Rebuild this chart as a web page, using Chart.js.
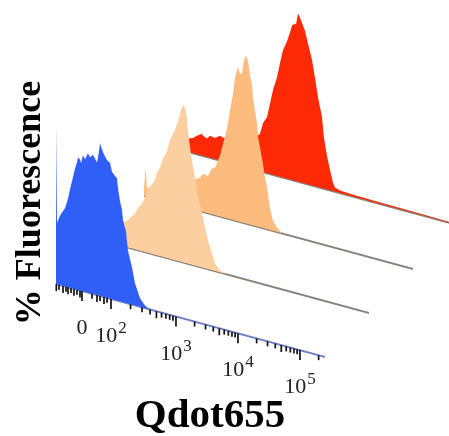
<!DOCTYPE html>
<html>
<head>
<meta charset="utf-8">
<script src="https://cdn.jsdelivr.net/npm/chart.js@4.4.1/dist/chart.umd.min.js"></script>
<style>
  html, body { margin: 0; padding: 0; background: #fff; }
  canvas { display: block; }
</style>
</head>
<body>
<canvas id="histChart" width="449" height="436"></canvas>
<script>
// axis position in decades (10^2 -> ~2), height in % of max count
const blueX = [1.065, 1.081, 1.130, 1.162, 1.210, 1.259, 1.291, 1.323, 1.371, 1.404, 1.420, 1.452, 1.468, 1.500, 1.533, 1.581, 1.613, 1.662, 1.694, 1.726, 1.759, 1.775, 1.791, 1.823, 1.855, 1.888, 1.936, 1.968, 2.017, 2.049, 2.065, 2.097, 2.130, 2.146, 2.194, 2.226, 2.291, 2.339, 2.420, 2.500, 2.581, 5.404];
const blueY = [94, 36, 41, 43, 46, 52, 58, 63, 71, 75, 78, 77, 75, 80, 78, 82, 80, 82, 80, 78, 85, 90, 88, 85, 83, 81, 80, 75, 73, 72, 66, 59, 54, 48, 42, 31, 22, 13, 5, 1.5, 0, 0];

const lightX = [1.065, 1.226, 1.388, 1.500, 1.549, 1.630, 1.678, 1.742, 1.791, 1.839, 1.904, 1.952, 1.984, 2.033, 2.081, 2.146, 2.194, 2.242, 2.275, 2.323, 2.355, 2.388, 2.404, 2.436, 2.468, 2.484, 2.517, 2.549, 2.597, 2.646, 2.710, 2.759, 2.807, 2.871, 2.920, 3.000, 3.113, 5.404];
const lightY = [8, 12, 14, 15.5, 18, 21, 25, 28, 32, 38, 41, 44, 49, 52, 58, 63, 70, 74, 77, 82, 87, 91, 93, 91, 86, 78, 69, 61, 52, 41, 32, 24, 17, 10, 4.5, 1.2, 0, 0];

const medX = [1.065, 1.089, 1.113, 1.162, 1.323, 1.484, 1.646, 1.807, 1.888, 1.968, 2.017, 2.097, 2.162, 2.210, 2.242, 2.291, 2.339, 2.404, 2.452, 2.500, 2.533, 2.565, 2.581, 2.613, 2.646, 2.678, 2.710, 2.742, 2.775, 2.807, 2.823, 2.855, 2.888, 2.904, 2.936, 2.984, 3.017, 3.049, 3.097, 3.146, 3.210, 3.291, 5.404];
const medY = [4, 17, 5, 6, 10, 14, 16, 17, 18, 19.6, 22.5, 22, 27, 28, 31, 36, 43, 53, 64, 74, 84, 89, 91, 87, 88, 96, 99, 96, 88, 83, 75, 68, 61, 53, 47, 38, 30, 25, 13, 6, 2.7, 0, 0];

const redX = [1.065, 1.146, 1.210, 1.291, 1.307, 1.371, 1.420, 1.500, 1.581, 1.630, 1.742, 1.904, 2.065, 2.162, 2.226, 2.275, 2.339, 2.388, 2.436, 2.500, 2.549, 2.597, 2.662, 2.710, 2.742, 2.791, 2.807, 2.839, 2.871, 2.904, 2.952, 3.000, 3.065, 3.113, 3.162, 3.226, 3.258, 3.307, 3.355, 3.404, 3.436, 3.517, 3.678, 4.000, 4.484, 4.968, 5.404];
const redY = [8, 9, 11, 13, 12, 11, 13, 12.6, 14.6, 14, 15, 16, 18, 20, 22, 29, 33, 41.5, 50, 58, 67, 75, 81, 86.5, 91, 92.6, 92, 99, 97, 94, 90, 83, 74, 64, 53, 42, 30, 20, 12, 5, 2.6, 1.6, 1.2, 1, 0.8, 0.6, 0.4];

// major ticks: 0, 10^2 ... 10^5 (biexponential axis)
const tickVals = [1.484, 1.952, 3.0, 4.0, 5.0];
const tickBase = ['0', '10', '10', '10', '10'];
const tickExp = ['', '2', '3', '4', '5'];
// ticks of the linear / negative part below 10^2
const lowTicks = [1.07, 1.113, 1.178, 1.226, 1.259, 1.307, 1.355, 1.404, 1.452, 1.646, 1.726, 1.775, 1.839, 1.888];

const axisMin = 1.065, axisMax = 5.404;
const skew = 0.271;   // slope of the baselines
const depth = 44;     // shift between stacked histograms (px)

function pts(xs, ys) {
    return xs.map(function (x, i) { return { x: x, y: ys[i] }; });
}

function histSet(xs, ys, color, layer, order) {
    return {
        data: pts(xs, ys), layer: layer, order: order,
        backgroundColor: color, borderColor: color, borderWidth: 0,
        fill: 'origin', tension: 0, pointRadius: 0, clip: false
    };
}

function baseSet(color, layer, order) {
    return {
        data: pts([axisMin, axisMax], [0, 0]), layer: layer, order: order,
        borderColor: color, borderWidth: 2, fill: false,
        pointRadius: 0, clip: false
    };
}

// skew every dataset so it sits on its own slanted baseline
const skewPlugin = {
    id: 'skew',
    beforeDatasetDraw(chart, args) {
        const ds = chart.data.datasets[args.index];
        const ctx = chart.ctx;
        ctx.save();
        ctx.translate(depth * ds.layer, -depth * ds.layer);
        ctx.transform(1, skew, 0, 1, 0, -skew * chart.chartArea.left);
    },
    afterDatasetDraw(chart) {
        chart.ctx.restore();
    }
};

// the filler paints areas in its own beforeDatasetDraw, so the skew has to run first
const filler = Chart.registry.getPlugin('filler');
Chart.unregister(filler);
Chart.register(skewPlugin, filler);

const axisPlugin = {
    id: 'slantAxis',
    afterDraw(chart) {
        const ctx = chart.ctx;
        const xs = chart.scales.x, ys = chart.scales.y;
        const left = chart.chartArea.left;
        const y0 = ys.getPixelForValue(0);
        function at(v) {
            const px = xs.getPixelForValue(v);
            return [px, y0 + skew * (px - left)];
        }
        function tick(v, len) {
            const p = at(v);
            ctx.beginPath();
            ctx.moveTo(p[0], p[1]);
            ctx.lineTo(p[0], p[1] + len);
            ctx.stroke();
        }

        ctx.save();
        ctx.strokeStyle = '#111';
        ctx.lineWidth = 1.7;
        lowTicks.forEach(function (v, i) { tick(v, i % 2 ? 5 : 7); });
        tickVals.forEach(function (v) { tick(v, 10); });
        for (let d = 1; d < tickVals.length; d++) {
            const w = d < tickVals.length - 1 ? tickVals[d + 1] - tickVals[d] : 1;
            for (let m = 2; m <= 9; m++) {
                const v = tickVals[d] + Math.log10(m) * w;
                if (v <= axisMax) tick(v, m === 5 ? 7 : 5);
            }
        }

        // tick labels
        ctx.fillStyle = '#222';
        ctx.textBaseline = 'alphabetic';
        ctx.textAlign = 'left';
        tickVals.forEach(function (v, i) {
            const p = at(v);
            ctx.font = '22px "Liberation Serif", "Times New Roman", serif';
            const w1 = ctx.measureText(tickBase[i]).width;
            ctx.font = '17px "Liberation Serif", "Times New Roman", serif';
            const w2 = tickExp[i] ? ctx.measureText(tickExp[i]).width + 1 : 0;
            const sx = p[0] - (w1 + w2) / 2;
            ctx.font = '22px "Liberation Serif", "Times New Roman", serif';
            ctx.fillText(tickBase[i], sx, p[1] + 43);
            if (tickExp[i]) {
                ctx.font = '17px "Liberation Serif", "Times New Roman", serif';
                ctx.fillText(tickExp[i], sx + w1 + 1, p[1] + 34);
            }
        });

        // axis titles
        ctx.fillStyle = '#000';
        ctx.textAlign = 'center';
        ctx.font = 'bold 41px "Liberation Serif", "Times New Roman", serif';
        ctx.fillText('Qdot655', 210, 427);
        ctx.translate(40, 203);
        ctx.rotate(-Math.PI / 2);
        ctx.font = 'bold 36px "Liberation Serif", "Times New Roman", serif';
        ctx.fillText('% Fluorescence', 0, 0);
        ctx.restore();
    }
};

const histChart = new Chart(document.getElementById('histChart'), {
    type: 'line',
    data: {
        datasets: [
            histSet(blueX, blueY, '#2f5ff7', 0, 0),
            baseSet('#7280c6', 0, 1),
            histSet(lightX, lightY, '#fccfa1', 1, 2),
            baseSet('#8a8279', 1, 3),
            histSet(medX, medY, '#fdbc7e', 2, 4),
            baseSet('#8a8279', 2, 5),
            histSet(redX, redY, '#fe2a06', 3, 6),
            baseSet('#8a8279', 3, 7)
        ]
    },
    options: {
        responsive: false,
        animation: false,
        events: [],
        layout: { padding: { left: 56, right: 124, top: 114, bottom: 152 } },
        scales: {
            x: { type: 'linear', min: axisMin, max: axisMax, display: false },
            y: { min: 0, max: 100, display: false }
        },
        plugins: {
            legend: { display: false },
            tooltip: { enabled: false }
        }
    },
    plugins: [axisPlugin]
});
</script>
</body>
</html>
